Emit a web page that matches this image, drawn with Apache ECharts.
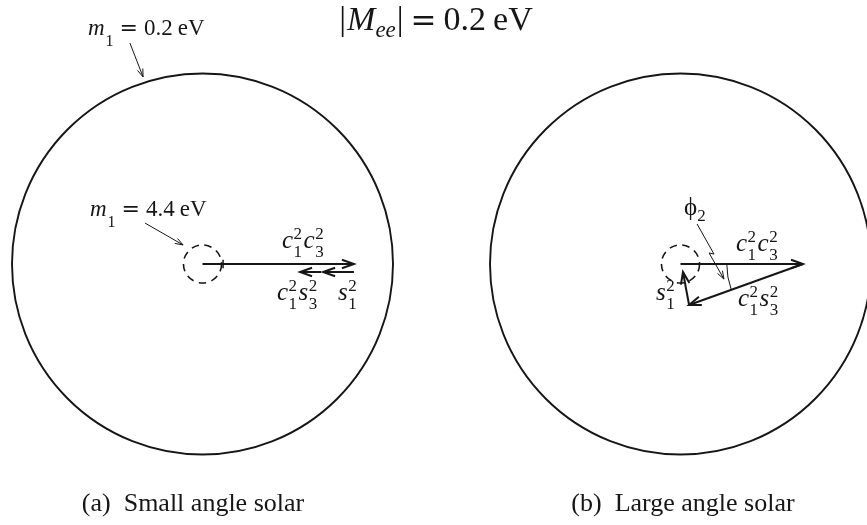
<!DOCTYPE html>
<html><head><meta charset="utf-8">
<script src="https://cdn.jsdelivr.net/npm/echarts@6/dist/echarts.min.js"></script>
<style>html,body{margin:0;padding:0;background:#fff}#c{width:867px;height:525px}</style>
</head><body><div id="c"></div>
<script>
// ---------- data (unit = radius of the outer circle of each panel) ----------
const panelCaptions = ['(a)  Small angle solar', '(b)  Large angle solar'];
const outerRadius = [1, 1];      // m1 = 0.2 eV circle
const innerRadius = [0.1, 0.1];  // m1 = 4.4 eV circle
// amplitude vectors [x0, y0, x1, y1]
const vectorsA = [
  [0, 0, 0.795, 0],               // c1^2 c3^2
  [0.795, -0.042, 0.633, -0.042], // s1^2
  [0.622, -0.042, 0.512, -0.042]  // c1^2 s3^2
];
const vectorsB = [
  [0, 0, 0.643, 0],               // c1^2 c3^2
  [0.643, 0, 0.045, -0.215],      // c1^2 s3^2
  [0.045, -0.215, 0.013, -0.042]  // s1^2
];
const tickA = [0.108];
const phaseArcRadiusB = [0.4];

// ---------- helpers ----------
const INK = '#161616';
const FAM = '"Liberation Serif","Times New Roman",serif';
const mctx = document.createElement('canvas').getContext('2d');
function tw(t, f) { mctx.font = f; return mctx.measureText(t).width; }
function font(size, it, fam) { return (it ? 'italic ' : '') + size + 'px ' + (fam || FAM); }
function txt(x, baseline, text, f, size) {
  return { type: 'text', x: x, y: baseline - 0.3375 * size, silent: true,
    style: { text: text, font: f, fill: INK, textAlign: 'left', textVerticalAlign: 'middle', align: 'left', verticalAlign: 'middle' } };
}
function math(x, baseline, runs) {
  const els = []; let cx = x;
  runs.forEach(r => {
    if (r.stack) {
      const f = font(r.s, false);
      els.push(txt(cx, baseline - r.up, r.stack[0], f, r.s));
      els.push(txt(cx, baseline + r.down, r.stack[1], f, r.s));
      cx += Math.max(tw(r.stack[0], f), tw(r.stack[1], f)) + (r.gap || 0);
    } else {
      const f = font(r.s, r.it, r.fam);
      els.push(txt(cx, baseline + (r.dy || 0), r.t, f, r.s));
      cx += tw(r.t, f) + (r.gap || 0);
    }
  });
  return { els: els, width: cx - x };
}
function prod(a, b, sa, sb) {
  return [
    { t: a, s: 25, it: true, gap: 0.5 }, { stack: ['2', sa], s: 17, up: 10, down: 8, gap: 1.5 },
    { t: b, s: 25, it: true, gap: 0.5 }, { stack: ['2', sb], s: 17, up: 10, down: 8 }
  ];
}
function single(a, sa) {
  return [{ t: a, s: 25, it: true, gap: 0.5 }, { stack: ['2', sa], s: 17, up: 10, down: 8 }];
}
function massLabel(val) {
  return [
    { t: 'm', s: 23, it: true, gap: 1 }, { t: '1', s: 16, dy: 10, gap: 6 },
    { t: '=', s: 22, fam: '"DejaVu Serif",serif', gap: 6 },
    { t: val, s: 23, gap: 5 }, { t: 'eV', s: 23 }
  ];
}
function head(p0, p1, L, W) {
  const dx = p1[0] - p0[0], dy = p1[1] - p0[1], len = Math.hypot(dx, dy);
  const ux = dx / len, uy = dy / len, px = -uy, py = ux;
  return [[p1[0] - L * ux + W * px, p1[1] - L * uy + W * py], p1, [p1[0] - L * ux - W * px, p1[1] - L * uy - W * py]];
}
function arrowEls(pts, lw, L, W) {
  const n = pts.length;
  return [
    { type: 'polyline', shape: { points: pts }, style: { fill: 'none', stroke: INK, lineWidth: lw, lineJoin: 'miter' } },
    { type: 'polyline', shape: { points: head(pts[n - 2], pts[n - 1], L, W) }, style: { fill: 'none', stroke: INK, lineWidth: lw, lineJoin: 'miter' } }
  ];
}

function makeRender(k) {
  return function (params, api) {
    const ch = [];
    const c = api.coord([0, 0]);
    const R = api.size([outerRadius[k], 0])[0];
    const r = api.size([innerRadius[k], 0])[0];
    ch.push({ type: 'circle', shape: { cx: c[0], cy: c[1], r: R }, style: { fill: 'none', stroke: INK, lineWidth: 1.9 } });
    ch.push({ type: 'circle', shape: { cx: c[0], cy: c[1], r: r }, style: { fill: 'none', stroke: INK, lineWidth: 1.6, lineDash: [7.5, 5.5] } });
    const vecs = k === 0 ? vectorsA : vectorsB;
    vecs.forEach(v => {
      ch.push(...arrowEls([api.coord([v[0], v[1]]), api.coord([v[2], v[3]])], 2, 12, 4.3));
    });
    if (k === 0) {
      const t0 = api.coord([tickA[0], 0.022]), t1 = api.coord([tickA[0], -0.022]);
      ch.push({ type: 'line', shape: { x1: t0[0], y1: t0[1], x2: t1[0], y2: t1[1] }, style: { stroke: INK, lineWidth: 1.5 } });
      ch.push(...arrowEls([api.coord([-0.381, 1.160]), api.coord([-0.312, 0.982])], 1, 8, 2.8));
      ch.push(...arrowEls([api.coord([-0.302, 0.215]), api.coord([-0.102, 0.100])], 1, 8, 2.8));
    } else {
      const v = vectorsB[1];
      const vtx = api.coord([v[0], v[1]]), end = api.coord([v[2], v[3]]);
      const ang = Math.atan2(end[1] - vtx[1], end[0] - vtx[0]);
      const ar = api.size([phaseArcRadiusB[0], 0])[0];
      ch.push({ type: 'arc', shape: { cx: vtx[0], cy: vtx[1], r: ar, startAngle: ang, endAngle: Math.PI, clockwise: true }, style: { fill: 'none', stroke: INK, lineWidth: 1 } });
      ch.push(...arrowEls([api.coord([0.087, 0.210]), api.coord([0.176, 0.052]), api.coord([0.150, 0.058]), api.coord([0.228, -0.079])], 1, 8, 2.8));
    }
    return { type: 'group', children: ch };
  };
}

// ---------- texts ----------
const g = [];
function place(x, baseline, runs, center) {
  const m = math(0, 0, runs);
  const x0 = center ? x - m.width / 2 : x;
  math(x0, baseline, runs).els.forEach(e => g.push(e));
}
place(436, 33, [
  { t: '|', s: 34, gap: 1 }, { t: 'M', s: 34, it: true, gap: 0 }, { t: 'ee', s: 23, it: true, dy: 6, gap: 1 },
  { t: '|', s: 34, gap: 7 }, { t: '=', s: 31, fam: '"DejaVu Serif",serif', gap: 7 }, { t: '0.2', s: 34, gap: 7 }, { t: 'eV', s: 34 }
], true);
place(88, 37, massLabel('0.2'));
place(90, 218, massLabel('4.4'));
place(282, 250, prod('c', 'c', '1', '3'));
place(277, 302, prod('c', 's', '1', '3'));
place(338, 302, single('s', '1'));
place(684, 217, [{ t: 'ϕ', s: 25, fam: '"Liberation Serif","DejaVu Serif",serif', gap: 0 }, { t: '2', s: 17, dy: 5 }]);
place(736, 253, prod('c', 'c', '1', '3'));
place(738, 308, prod('c', 's', '1', '3'));
place(656, 302, single('s', '1'));
place(193, 513, [{ t: panelCaptions[0], s: 26 }], true);
place(683, 513, [{ t: panelCaptions[1], s: 26 }], true);

const chart = echarts.init(document.getElementById('c'), null, { renderer: 'canvas' });
const axisCommon = { type: 'value', min: -1, max: 1, show: false };
chart.setOption({
  animation: false,
  backgroundColor: '#ffffff',
  grid: [
    { left: 12, top: 73.5, width: 381, height: 381, outerBoundsMode: 'none' },
    { left: 490, top: 73.5, width: 381, height: 381, outerBoundsMode: 'none' }
  ],
  xAxis: [Object.assign({ gridIndex: 0 }, axisCommon), Object.assign({ gridIndex: 1 }, axisCommon)],
  yAxis: [Object.assign({ gridIndex: 0 }, axisCommon), Object.assign({ gridIndex: 1 }, axisCommon)],
  series: [
    { type: 'custom', xAxisIndex: 0, yAxisIndex: 0, data: [[0, 0]], renderItem: makeRender(0), silent: true, clip: false },
    { type: 'custom', xAxisIndex: 1, yAxisIndex: 1, data: [[0, 0]], renderItem: makeRender(1), silent: true, clip: false }
  ],
  graphic: { elements: g }
});
</script></body></html>
